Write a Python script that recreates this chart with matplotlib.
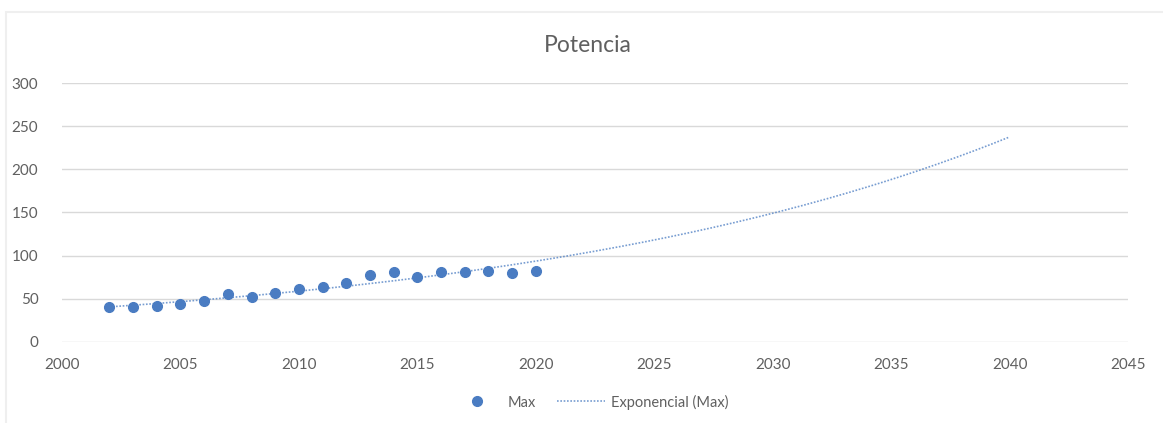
import numpy as np
import matplotlib.pyplot as plt
from matplotlib.patches import Rectangle

# potencia maxima por año
years = [2002, 2003, 2004, 2005, 2006, 2007, 2008, 2009, 2010, 2011,
         2012, 2013, 2014, 2015, 2016, 2017, 2018, 2019, 2020]
max_vals = [40, 40, 41.4, 43.5, 47, 55, 51.6, 57, 61.6, 63,
            68.6, 77.5, 80.7, 75.6, 80.7, 80.7, 82.2, 80, 82.2]
trend_end = 2040

x_ticks = [2000, 2005, 2010, 2015, 2020, 2025, 2030, 2035, 2040, 2045]
y_ticks = [0, 50, 100, 150, 200, 250, 300]

blue = '#4a7cc2'
gray = '#606060'
plt.rcParams['font.family'] = ['Lato', 'DejaVu Sans']

# ajuste exponencial como en Excel: minimos cuadrados sobre ln(y)
x = np.array(years, dtype=float)
b, a = np.polyfit(x - years[0], np.log(max_vals), 1)
xt = np.linspace(years[0], trend_end, 200)
yt = np.exp(a + b * (xt - years[0]))

fig = plt.figure(figsize=(11.63, 4.23), dpi=100)
fig.patches.append(Rectangle((6 / 1163, -0.1), 1.2, 1 - 12 / 423 + 0.1,
                             transform=fig.transFigure, fill=False,
                             edgecolor='#efefef', lw=1.5))
ax = fig.add_axes([62 / 1163, 1 - 341.7 / 423, (1128 - 62) / 1163, (341.7 - 83.3) / 423])

ax.plot(xt, yt, ls=(0, (1, 1)), color=blue, lw=1.2, alpha=0.75,
        label='Exponencial (Max)', zorder=3)
ax.plot(years, max_vals, 'o', color=blue, ms=7, label='Max', zorder=4)

ax.set_xlim(2000, 2045)
ax.set_ylim(0, 300)
ax.set_xticks(x_ticks)
ax.set_yticks(y_ticks)
ax.grid(axis='y', color='#d9d9d9', lw=1)
ax.set_axisbelow(True)
for s in ax.spines.values():
    s.set_visible(False)
ax.tick_params(length=0, colors=gray, labelsize=11)
ax.tick_params(axis='y', pad=17)
ax.tick_params(axis='x', pad=12)

fig.text(588 / 1163, 1 - 45 / 423, 'Potencia', fontsize=16.5, color=gray,
         ha='center', va='center')

h, l = ax.get_legend_handles_labels()
fig.legend(h[::-1], l[::-1], loc='center', bbox_to_anchor=(591 / 1163, 1 - 402 / 423),
           ncol=2, frameon=False, fontsize=10.5, labelcolor=gray,
           handlelength=3.3, columnspacing=1.5, handletextpad=0.4)

fig.savefig('out.png', dpi=100, facecolor='white')
